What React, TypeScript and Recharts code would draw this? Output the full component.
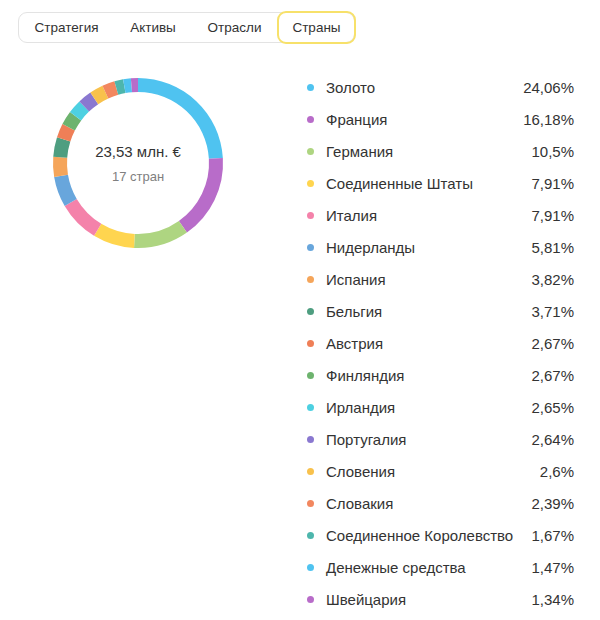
import { PieChart, Pie, Cell, Legend } from "recharts";

const COUNTRIES = [
  "Золото",
  "Франция",
  "Германия",
  "Соединенные Штаты",
  "Италия",
  "Нидерланды",
  "Испания",
  "Бельгия",
  "Австрия",
  "Финляндия",
  "Ирландия",
  "Португалия",
  "Словения",
  "Словакия",
  "Соединенное Королевство",
  "Денежные средства",
  "Швейцария",
];

const SHARES = [24.06, 16.18, 10.5, 7.91, 7.91, 5.81, 3.82, 3.71, 2.67, 2.67, 2.65, 2.64, 2.6, 2.39, 1.67, 1.47, 1.34];

const COLORS = [
  "#4fc3f0",
  "#b86cc9",
  "#aed581",
  "#ffd54f",
  "#f482aa",
  "#68a6dc",
  "#f5a55a",
  "#4e9e80",
  "#ef7f57",
  "#6db36e",
  "#4dd0e1",
  "#8a78d0",
  "#f8c14c",
  "#f2875f",
  "#4db6ac",
  "#4fc3f0",
  "#b86cc9",
];

const TABS = ["Стратегия", "Активы", "Отрасли", "Страны"];
const TAB_WIDTHS = [95, 78, 85, 79];

const TOTAL = "23,53 млн. €";
const SUBTITLE = "17 стран";

const data = COUNTRIES.map((name, i) => ({ name, value: SHARES[i] }));

const FONT = "'Liberation Sans', Arial, sans-serif";

const fmt = (v: number) => String(v).replace(".", ",") + "%";

function Tabs() {
  return (
    <div
      style={{
        position: "absolute",
        left: 18,
        top: 12,
        height: 31,
        display: "flex",
        border: "1px solid #e3e3e3",
        borderRadius: 9,
        boxSizing: "border-box",
        zIndex: 2,
      }}
    >
      {TABS.map((t, i) => {
        const active = i === TABS.length - 1;
        return (
          <div
            key={t}
            style={{
              width: TAB_WIDTHS[i],
              height: active ? 33 : 29,
              marginTop: active ? -2 : 0,
              marginRight: active ? -2 : 0,
              boxSizing: "border-box",
              display: "flex",
              alignItems: "center",
              justifyContent: "center",
              fontSize: 13.5,
              color: "#333",
              borderLeft: i > 0 && !active ? "1px solid #e8e8e8" : undefined,
              border: active ? "2px solid #f7e16a" : undefined,
              borderRadius: active ? 9 : 0,
            }}
          >
            {t}
          </div>
        );
      })}
    </div>
  );
}

function LegendList() {
  return (
    <div style={{ width: 276, fontFamily: FONT }}>
      {data.map((d, i) => (
        <div key={d.name} style={{ display: "flex", alignItems: "center", height: 32, fontSize: 15, color: "#333" }}>
          <span
            style={{
              width: 7,
              height: 7,
              borderRadius: "50%",
              background: COLORS[i],
              marginLeft: 9,
              marginRight: 12,
              flex: "none",
            }}
          />
          <span style={{ flex: 1, whiteSpace: "nowrap" }}>{d.name}</span>
          <span style={{ whiteSpace: "nowrap" }}>{fmt(d.value)}</span>
        </div>
      ))}
    </div>
  );
}

export default function App() {
  return (
    <div style={{ position: "relative", width: 600, height: 620, margin: -8, background: "#fff", fontFamily: FONT }}>
      <Tabs />
      <PieChart
        width={600}
        height={620}
        margin={{ top: 0, right: 0, bottom: 0, left: 0 }}
        style={{ position: "absolute", left: 0, top: 0 }}
      >
        <Pie
          data={data}
          dataKey="value"
          nameKey="name"
          cx={138}
          cy={163}
          innerRadius={71}
          outerRadius={85}
          startAngle={90}
          endAngle={-270}
          stroke="none"
          isAnimationActive={false}
        >
          {data.map((_, i) => (
            <Cell key={i} fill={COLORS[i]} />
          ))}
        </Pie>
        <Legend
          layout="vertical"
          content={() => <LegendList />}
          wrapperStyle={{ left: 298, top: 71, width: 276, bottom: "auto" }}
        />
      </PieChart>
      <div
        style={{
          position: "absolute",
          left: 58,
          width: 160,
          top: 142,
          textAlign: "center",
          fontSize: 15,
          color: "#333",
          lineHeight: "20px",
        }}
      >
        {TOTAL}
      </div>
      <div
        style={{
          position: "absolute",
          left: 58,
          width: 160,
          top: 168,
          textAlign: "center",
          fontSize: 13,
          color: "#808080",
          lineHeight: "18px",
        }}
      >
        {SUBTITLE}
      </div>
    </div>
  );
}
